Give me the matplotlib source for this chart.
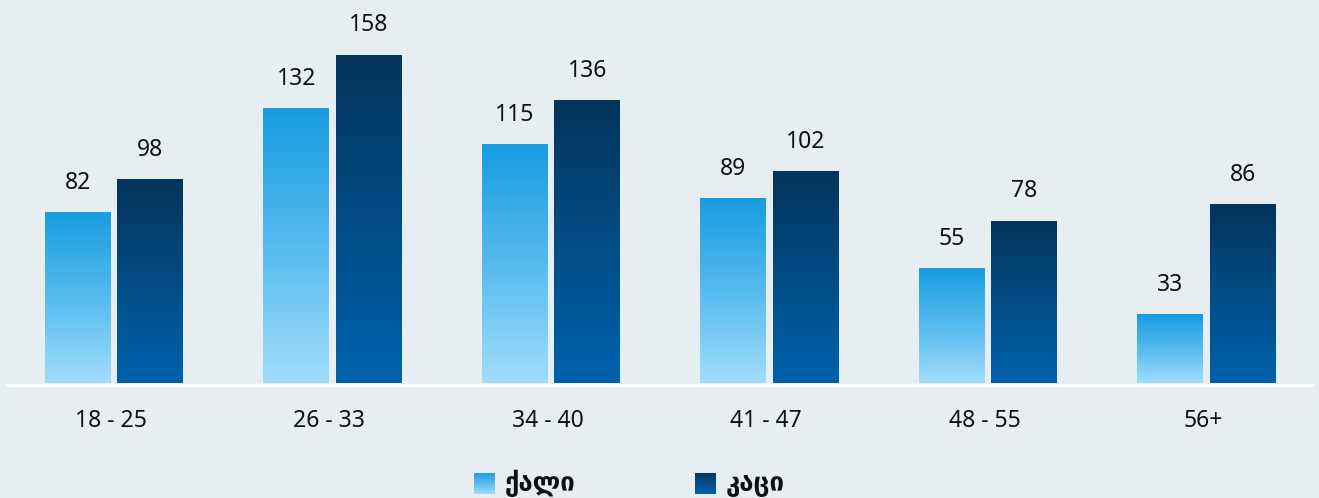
import matplotlib
matplotlib.use("Agg")
import matplotlib.pyplot as plt
import numpy as np
from matplotlib.colors import LinearSegmentedColormap

# Data
age_groups = ["18 - 25", "26 - 33", "34 - 40", "41 - 47", "48 - 55", "56+"]
women = [82, 132, 115, 89, 55, 33]
men = [98, 158, 136, 102, 78, 86]
series_names = ["ქალი", "კაცი"]

BG = "#e6eef2"
TEXT = "#111111"
women_cmap = LinearSegmentedColormap.from_list("women", ["#a2ddfc", "#56bbee", "#189ce0"])
men_cmap = LinearSegmentedColormap.from_list("men", ["#0062ac", "#024c86", "#04345a"])

fig = plt.figure(figsize=(13.19, 4.98), dpi=100, facecolor=BG)
ax = fig.add_axes([0, 0.2309, 1, 0.7691])
ax.set_facecolor(BG)

x = np.arange(len(age_groups))
width = 0.302
offset = 0.166
grad = np.linspace(0, 1, 256).reshape(-1, 1)


def gradient_bars(xpos, values, cmap):
    bars = ax.bar(xpos, values, width, color="none", edgecolor="none", zorder=2)
    for rect in bars:
        x0, y0 = rect.get_x(), rect.get_y()
        w, h = rect.get_width(), rect.get_height()
        ax.imshow(grad, cmap=cmap, origin="lower", aspect="auto",
                  extent=[x0, x0 + w, y0, y0 + h], zorder=2, interpolation="bilinear")
    for xi, v in zip(xpos, values):
        ax.annotate(f"{v}", (xi, v), xytext=(0, 17.0), textcoords="offset points",
                    ha="center", va="baseline", fontsize=16.5, color=TEXT,
                    family="Noto Sans")
    return bars


gradient_bars(x - offset, women, women_cmap)
gradient_bars(x + offset, men, men_cmap)

ax.set_xlim(-0.5217, 5.515)
ax.set_ylim(0, 184.5)

# White baseline under the bars
ax.axhline(-0.75, xmin=0.0045, xmax=0.9955, color="white", lw=2.4, clip_on=False, zorder=3)

# Category labels
for xi, lab in zip(x, age_groups):
    ax.text(xi - 0.015, -0.1149, lab, transform=ax.get_xaxis_transform(),
            ha="center", va="baseline", fontsize=16.5, color=TEXT, family="Noto Sans")

ax.set_xticks([])
ax.set_yticks([])
for s in ax.spines.values():
    s.set_visible(False)

# Legend: gradient swatches with labels
W, H = 1319.0, 498.0
swatches = [(474, women_cmap, series_names[0]), (695, men_cmap, series_names[1])]
for px, cmap, name in swatches:
    sax = fig.add_axes([px / W, (H - 494) / H, 21 / W, 21 / H])
    sax.imshow(grad, cmap=cmap, origin="lower", aspect="auto", interpolation="bilinear")
    sax.axis("off")
    fig.text((px + 31) / W, (H - 491) / H, name, ha="left", va="baseline",
             fontsize=18.5, fontweight="bold", color=TEXT, family=["DejaVu Sans"])

fig.savefig("out.png", dpi=100, facecolor=BG)
